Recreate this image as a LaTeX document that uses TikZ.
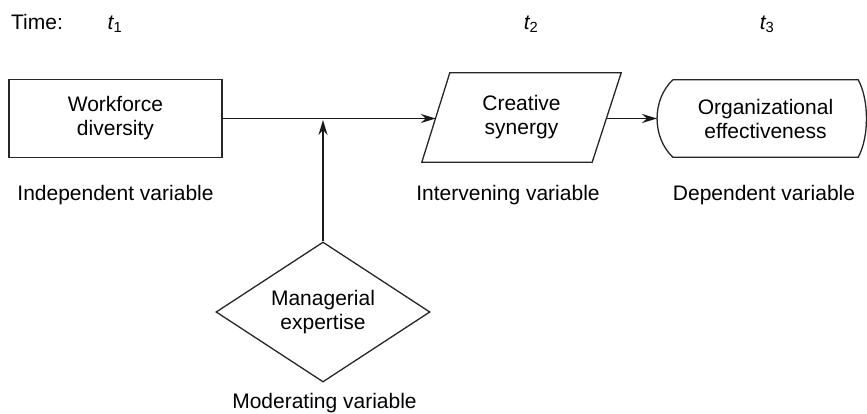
\documentclass[tikz,border=0pt]{standalone}
\usepackage{fontspec}
\setmainfont{Liberation Sans}
\usetikzlibrary{shapes.geometric,arrows.meta}
\begin{document}
\begin{tikzpicture}[x=1pt,y=-1pt,
  every node/.style={font=\fontsize{21}{24}\selectfont, align=center},
  shapeline/.style={draw=black!85, line width=1.3pt},
  flow/.style={draw=black!90, line width=1.9pt, -{Stealth[length=15pt,width=9pt,inset=5pt]}},
  caption/.style={inner sep=0pt},
  timelabel/.style={inner sep=0pt}]
\useasboundingbox (0,0) rectangle (867,414);

% time axis labels
\node[timelabel] (time) at (37,22) {Time:};
\node[timelabel] (t1) at (115,24) {\itshape t{\upshape\textsubscript{1}}};
\node[timelabel] (t2) at (531,24) {\itshape t{\upshape\textsubscript{2}}};
\node[timelabel] (t3) at (767,24) {\itshape t{\upshape\textsubscript{3}}};

% independent variable
\node[shapeline, rectangle, minimum width=213pt, minimum height=78pt, inner sep=0pt]
  (wd) at (115.5,118.5) {Workforce\\diversity};
\node[caption] (wdlab) at (115.5,195) {Independent variable};

% intervening variable: parallelogram drawn round its text node
\node[rectangle, minimum width=199pt, minimum height=89pt, inner sep=0pt]
  (cs) at (521.5,117.5) {Creative\\synergy};
\draw[shapeline] ([xshift=28pt]cs.north west) -- (cs.north east)
  -- ([xshift=-29pt]cs.south east) -- (cs.south west) -- cycle;
\coordinate (csin) at ([xshift=14pt,yshift=-1pt]cs.west);
\coordinate (csout) at ([xshift=-14.5pt,yshift=-1pt]cs.east);
\node[caption] (cslab) at (508,195) {Intervening variable};

% dependent variable: terminal shape drawn round its text node
\node[rectangle, minimum width=185pt, minimum height=77pt, inner sep=0pt]
  (oe) at (765.5,118.5) {Organizational\\effectiveness};
\draw[shapeline] (oe.north west) -- (oe.north east)
  .. controls ([xshift=11pt,yshift=-20pt]oe.north east) and ([xshift=11pt,yshift=20pt]oe.south east) .. (oe.south east)
  -- (oe.south west)
  .. controls ([xshift=-21pt,yshift=20pt]oe.south west) and ([xshift=-21pt,yshift=-20pt]oe.north west) .. (oe.north west);
\coordinate (oetip) at (657,118.5);
\node[caption] (oelab) at (764,195) {Dependent variable};

% moderating variable
\node[shapeline, diamond, shape aspect=1.53, minimum width=214pt, minimum height=140pt, inner sep=0pt]
  (me) at (323,312) {Managerial\\expertise};
\node[caption] (melab) at (324.5,403) {Moderating variable};

% connectors
\coordinate (mod) at (323,118.5);
\draw[flow] (wd.east) -- (csin);
\draw[flow] (csout) -- (oetip);
\draw[flow, shorten >=1.5pt] (me.north) -- (mod);
\end{tikzpicture}
\end{document}
